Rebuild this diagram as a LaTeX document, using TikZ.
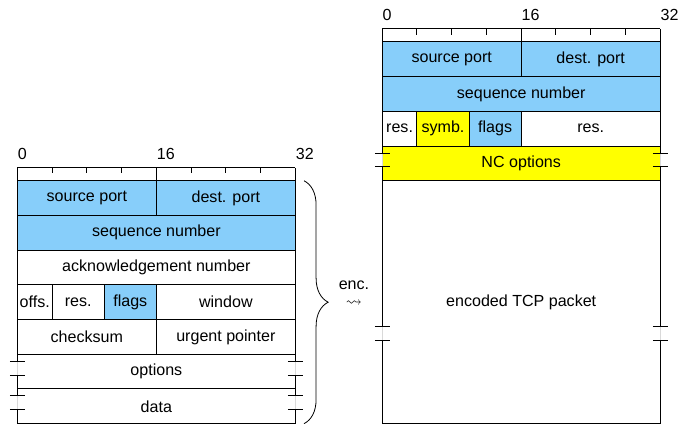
\documentclass[tikz,border=0pt]{standalone}
\usepackage{amssymb}
\usepackage{fontspec}
\setmainfont{Liberation Sans}
\usetikzlibrary{positioning,decorations.pathreplacing}

\definecolor{hdrblue}{RGB}{135,206,250}
\definecolor{ncyellow}{RGB}{255,255,0}

\begin{document}
\begin{tikzpicture}[x=5.408pt,y=-21.6pt,line width=0.6pt]
	\tikzset{fieldbox/.style={draw}}
	\tikzset{hdr/.style={fill=hdrblue}}
	\tikzset{nc/.style={fill=ncyellow}}
	\tikzset{bitnum/.style={anchor=south west,inner sep=0pt,yshift=5pt}}
	\tikzset{gapline/.style={draw=black!15}}
	\useasboundingbox (0,0) rectangle (80.35,12.25);

	% TCP header
	\begin{scope}[shift={(2,5.21)}]
		\draw (0,-0.375) -- (32,-0.375) (0,-0.375) -- (0,0) (16,-0.375) -- (16,0) (32,-0.375) -- (32,0);
		\foreach \b in {4,8,12,20,24,28} \draw (\b,-0.375) -- (\b,-0.215);
		\node[bitnum] (l0) at (0,-0.375) {0};
		\node[bitnum] (l16) at (16,-0.375) {16};
		\node[bitnum] (l32) at (32,-0.375) {32};
		\draw[fieldbox,hdr] (0,0) rectangle node (lsrc) {source port} (16,1);
		\draw[fieldbox,hdr] (16,0) rectangle node (ldst) {dest. port} (32,1);
		\draw[fieldbox,hdr] (0,1) rectangle node (lseq) {sequence number} (32,2);
		\draw[fieldbox] (0,2) rectangle node (lack) {acknowledgement number} (32,3);
		\draw[fieldbox] (0,3) rectangle node (loffs) {offs.} (4,4);
		\draw[fieldbox] (4,3) rectangle node (lres) {res.} (10,4);
		\draw[fieldbox,hdr] (10,3) rectangle node (lflags) {flags} (16,4);
		\draw[fieldbox] (16,3) rectangle node (lwin) {window} (32,4);
		\draw[fieldbox] (0,4) rectangle node (lcsum) {checksum} (16,5);
		\draw[fieldbox] (16,4) rectangle node (lurg) {urgent pointer} (32,5);
		% variable length
		\draw (0,5) -- (32,5) (0,6) -- (32,6) (0,7) -- (32,7);
		\node (lopt) at (16,5.5) {options};
		\node (ldata) at (16,6.5) {data};
		\foreach \x in {0,32} {
			\draw (\x,5) -- (\x,5.2) (\x,5.6) -- (\x,6.2) (\x,6.6) -- (\x,7);
			\foreach \r in {5,6} {
				\draw[gapline] (\x,\r+0.2) -- (\x,\r+0.6);
				\draw (\x-0.85,\r+0.2) -- (\x+0.85,\r+0.2) (\x-0.85,\r+0.6) -- (\x+0.85,\r+0.6);
			}
		}
		\coordinate (btop) at (33,0);
		\coordinate (bbot) at (33,7);
		\draw[line width=0.5pt,decorate,decoration={brace,amplitude=15pt}] (btop) -- (bbot);
		\node (enc) at (38.75,3.0) {enc.};
		\node (lto) at (38.75,3.55) {$\leadsto$};
	\end{scope}

	% encoded packet
	\begin{scope}[shift={(44,1.21)}]
		\draw (0,-0.375) -- (32,-0.375) (0,-0.375) -- (0,0) (16,-0.375) -- (16,0) (32,-0.375) -- (32,0);
		\foreach \b in {4,8,12,20,24,28} \draw (\b,-0.375) -- (\b,-0.215);
		\node[bitnum] (r0) at (0,-0.375) {0};
		\node[bitnum] (r16) at (16,-0.375) {16};
		\node[bitnum] (r32) at (32,-0.375) {32};
		\draw[fieldbox,hdr] (0,0) rectangle node (rsrc) {source port} (16,1);
		\draw[fieldbox,hdr] (16,0) rectangle node (rdst) {dest. port} (32,1);
		\draw[fieldbox,hdr] (0,1) rectangle node (rseq) {sequence number} (32,2);
		\draw[fieldbox] (0,2) rectangle node (rres) {res.} (4,3);
		\draw[fieldbox,nc] (4,2) rectangle node (rsymb) {symb.} (10,3);
		\draw[fieldbox,hdr] (10,2) rectangle node (rflags) {flags} (16,3);
		\draw[fieldbox] (16,2) rectangle node (rres2) {res.} (32,3);
		% variable length
		\fill[nc] (0,3) rectangle (32,4);
		\draw (0,3) -- (32,3) (0,4) -- (32,4) (0,11) -- (32,11);
		\node (rnc) at (16,3.5) {NC options};
		\node (rpkt) at (16,7.5) {encoded TCP packet};
		\foreach \x in {0,32} {
			\draw (\x,3) -- (\x,3.2) (\x,3.6) -- (\x,8.2) (\x,8.6) -- (\x,11);
			\foreach \r in {3,8} {
				\draw[gapline] (\x,\r+0.2) -- (\x,\r+0.6);
				\draw (\x-0.85,\r+0.2) -- (\x+0.85,\r+0.2) (\x-0.85,\r+0.6) -- (\x+0.85,\r+0.6);
			}
		}
	\end{scope}
\end{tikzpicture}
\end{document}
